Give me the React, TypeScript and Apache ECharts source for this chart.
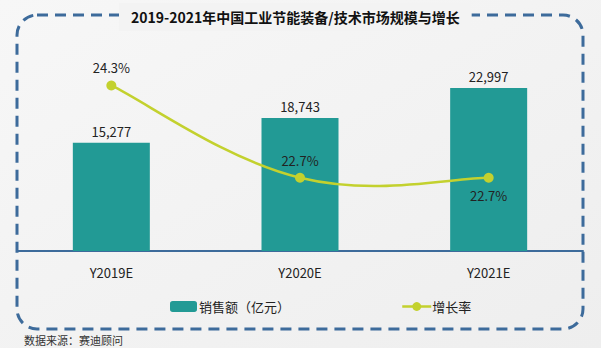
import React, { useEffect, useRef } from 'react';
import * as echarts from 'echarts';

const categories = ['Y2019E', 'Y2020E', 'Y2021E'];
const salesValues = [15277, 18743, 22997];
const growthRates = [24.3, 22.7, 22.7];
const growthLabelPositions = ['top', 'top', 'bottom'];
const titleText = '2019-2021年中国工业节能装备/技术市场规模与增长';
const sourceText = '数据来源：赛迪顾问';
const salesName = '销售额（亿元）';
const growthName = '增长率';

const FONT = '"Noto Sans CJK SC", "Noto Sans", sans-serif';
const TEAL = '#229a95';
const LIME = '#c3d12e';
const BLUE = '#3d6b9b';
const BG = '#f3f3f3';
const TENSION = 0.2;

export default function App() {
  const ref = useRef<HTMLDivElement>(null);
  useEffect(() => {
    if (!ref.current) return;
    const chart = echarts.init(ref.current, undefined, { renderer: 'svg' });
    const n = growthRates.length;
    chart.setOption({
      animation: false,
      backgroundColor: {
        type: 'linear', x: 0, y: 0, x2: 1, y2: 1,
        colorStops: [
          { offset: 0, color: '#f7f7f7' },
          { offset: 1, color: '#eeeeee' },
        ],
      },
      textStyle: { fontFamily: FONT },
      title: {
        text: titleText,
        left: 119,
        top: 3,
        padding: [7, 12, 7, 12],
        backgroundColor: BG,
        textStyle: { fontSize: 14, fontWeight: 'bold', color: '#111', fontFamily: FONT },
      },
      graphic: [
        {
          type: 'rect',
          z: -1,
          shape: { x: 17, y: 15, width: 566, height: 314, r: 20 },
          style: { fill: 'none', stroke: BLUE, lineWidth: 3, lineDash: [11, 7] },
        },
        {
          type: 'text',
          left: 24,
          top: 334,
          style: { text: sourceText, fontSize: 11, fill: '#333', fontFamily: FONT },
        },
      ],
      legend: [
        {
          data: [salesName],
          left: 165,
          top: 295,
          itemWidth: 27,
          itemHeight: 11,
          textStyle: { fontSize: 13, color: '#222', fontFamily: FONT, padding: [0, 0, 0, -3] },
        },
        {
          data: [growthName],
          left: 396,
          top: 295,
          itemWidth: 29,
          itemHeight: 11,
          lineStyle: { opacity: 1, color: LIME, width: 2.5 },
          textStyle: { fontSize: 13, color: '#222', fontFamily: FONT, padding: [0, 0, 0, -4] },
        },
      ],
      grid: { left: 17, right: 18, top: 59.5, bottom: 97 },
      xAxis: {
        type: 'category',
        data: categories,
        axisLine: { lineStyle: { color: BLUE, width: 2 } },
        axisTick: { show: false },
        axisLabel: { color: '#222', fontSize: 13, margin: 15, fontFamily: FONT },
      },
      yAxis: [
        { type: 'value', min: 0, max: 27000, show: false },
        { type: 'value', min: 21.43, max: 24.75, show: false },
      ],
      series: [
        {
          name: salesName,
          type: 'bar',
          z: 2,
          data: salesValues,
          barWidth: 77,
          itemStyle: { color: TEAL },
          label: {
            show: true,
            position: 'top',
            distance: 5,
            color: '#222',
            fontSize: 13,
            fontFamily: FONT,
            formatter: (p: any) => Number(p.value).toLocaleString('en-US'),
          },
        },
        {
          name: 'curve',
          type: 'custom',
          yAxisIndex: 1,
          z: 5,
          silent: true,
          clip: false,
          data: growthRates.map((v, i) => [i, v]),
          renderItem: (params: any, api: any) => {
            const i = params.dataIndex;
            if (i >= n - 1) return { type: 'group', children: [] };
            const pt = (k: number) => {
              const kk = Math.max(0, Math.min(n - 1, k));
              return api.coord([api.value(0, kk), api.value(1, kk)]);
            };
            const p0 = pt(i - 1), p1 = pt(i), p2 = pt(i + 1), p3 = pt(i + 2);
            return {
              type: 'bezierCurve',
              z2: 10,
              shape: {
                x1: p1[0], y1: p1[1],
                x2: p2[0], y2: p2[1],
                cpx1: p1[0] + (p2[0] - p0[0]) * TENSION,
                cpy1: p1[1] + (p2[1] - p0[1]) * TENSION,
                cpx2: p2[0] - (p3[0] - p1[0]) * TENSION,
                cpy2: p2[1] - (p3[1] - p1[1]) * TENSION,
              },
              style: { stroke: LIME, lineWidth: 2.5, fill: null },
            };
          },
        },
        {
          name: growthName,
          type: 'line',
          yAxisIndex: 1,
          symbol: 'circle',
          symbolSize: 10,
          z: 6,
          lineStyle: { color: LIME, width: 2.5, opacity: 0 },
          itemStyle: { color: LIME },
          data: growthRates.map((v, i) => ({
            value: v,
            label: { position: growthLabelPositions[i] },
          })),
          label: {
            show: true,
            distance: 6,
            color: '#222',
            fontSize: 13,
            fontFamily: FONT,
            formatter: (p: any) => Number(p.value).toFixed(1) + '%',
          },
        },
      ],
    });
    return () => chart.dispose();
  }, []);
  return <div ref={ref} style={{ width: 601, height: 348, position: 'absolute', left: 0, top: 0 }} />;
}
